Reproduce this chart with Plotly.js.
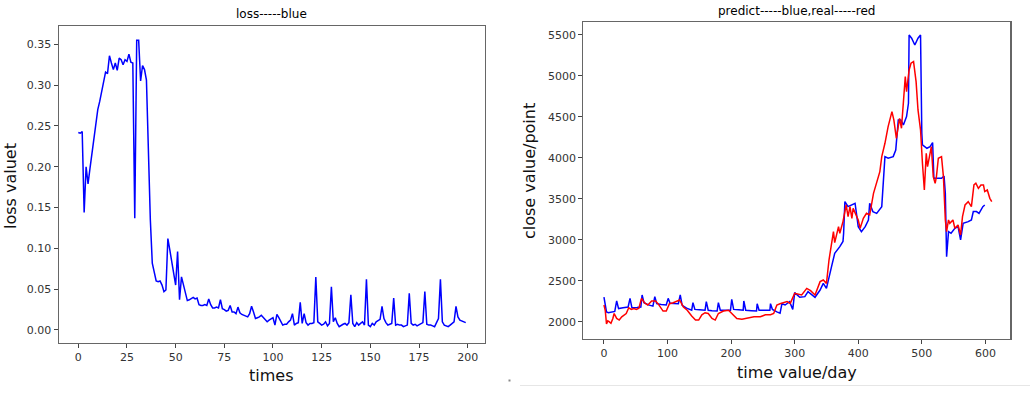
<!DOCTYPE html>
<html>
<head>
<meta charset="utf-8">
<script src="https://cdn.plot.ly/plotly-3.0.1.min.js"></script>
<style>html,body{margin:0;padding:0;background:#fff;}#chart{width:1036px;height:400px;}</style>
</head>
<body>
<div id="chart"></div>
<script>
// ---- left chart: training loss ----
const lossValues = [
0.242,0.241,0.243,0.144,0.200,0.179,0.198,0.217,0.235,0.252,
0.270,0.280,0.292,0.300,0.316,0.314,0.336,0.327,0.319,0.327,
0.318,0.333,0.331,0.325,0.331,0.329,0.338,0.328,0.327,0.137,
0.355,0.355,0.305,0.324,0.319,0.306,0.215,0.135,0.082,0.070,
0.060,0.059,0.060,0.055,0.047,0.049,0.112,0.098,0.084,0.070,
0.055,0.096,0.037,0.065,0.055,0.045,0.036,0.037,0.038,0.040,
0.038,0.039,0.031,0.030,0.030,0.031,0.030,0.038,0.031,0.027,
0.027,0.028,0.027,0.037,0.026,0.025,0.023,0.024,0.030,0.022,
0.022,0.020,0.028,0.021,0.019,0.018,0.017,0.016,0.020,0.029,
0.022,0.014,0.015,0.016,0.018,0.015,0.013,0.010,0.012,0.014,
0.015,0.006,0.019,0.015,0.010,0.006,0.007,0.007,0.010,0.012,
0.020,0.006,0.008,0.009,0.034,0.008,0.020,0.009,0.006,0.008,
0.008,0.009,0.065,0.010,0.008,0.006,0.007,0.010,0.005,0.008,
0.053,0.010,0.015,0.008,0.004,0.006,0.007,0.008,0.006,0.009,
0.043,0.008,0.004,0.009,0.006,0.008,0.010,0.006,0.062,0.006,
0.004,0.008,0.006,0.010,0.012,0.013,0.029,0.014,0.009,0.006,
0.007,0.008,0.039,0.006,0.007,0.006,0.006,0.004,0.005,0.006,
0.045,0.008,0.006,0.007,0.005,0.006,0.008,0.009,0.047,0.007,
0.006,0.006,0.005,0.004,0.009,0.014,0.062,0.010,0.006,0.005,
0.004,0.006,0.008,0.010,0.029,0.016,0.012,0.011,0.010,0.009
];
const lossTimes = lossValues.map((v, i) => i);
const lossTickVals = [0,25,50,75,100,125,150,175,200];
const lossYTicks = [0,0.05,0.10,0.15,0.20,0.25,0.30,0.35];

// ---- right chart: predicted (blue) vs real (red) close ----
const predictDays = [0,2,4,7,12,17,20,23,30,38,41,44,52,58,60,63,70,77,80,83,90,98,101,104,110,117,120,123,130,138,140,143,150,159,161,164,170,178,180,183,190,199,201,204,212,219,220,223,232,240,241,244,252,261,262,265,272,277,280,285,292,297,300,308,316,321,332,340,345,350,358,363,371,376,377,379,384,390,395,400,405,411,416,418,423,429,437,442,447,455,459,463,467,471,476,479,480,484,489,494,498,500,501,508,513,517,519,531,535,537,539,542,546,552,557,561,565,573,578,581,586,590,596,599];
const predictValues = [2300,2230,2120,2110,2118,2125,2253,2160,2170,2180,2285,2170,2175,2180,2326,2232,2205,2190,2305,2220,2210,2204,2285,2225,2222,2220,2326,2200,2165,2140,2232,2150,2145,2140,2244,2140,2135,2130,2232,2140,2140,2140,2273,2150,2145,2140,2253,2140,2135,2130,2220,2140,2140,2140,2220,2150,2120,2105,2220,2204,2245,2151,2355,2298,2306,2367,2298,2387,2468,2407,2672,2835,2916,2980,3079,3466,3405,3425,3446,3160,3099,3160,3242,3446,3344,3323,3405,4015,3995,4015,4096,4463,4463,4402,4504,4666,5500,5460,5378,5460,5500,4300,4158,4117,4137,4186,3750,3750,3779,3567,2794,3099,3079,3140,3160,2998,3201,3222,3242,3344,3344,3323,3405,3425];
const realDays = [0,2,4,6,8,11,14,16,20,24,28,32,35,39,43,47,51,55,59,64,69,75,81,85,88,93,98,103,109,115,119,125,131,138,144,149,154,159,164,170,175,180,188,196,201,209,217,225,236,246,254,262,267,272,277,288,293,300,311,319,325,332,340,345,350,354,358,361,363,369,371,376,381,384,387,390,392,397,400,403,408,413,418,424,429,434,437,442,447,453,456,460,465,468,474,476,480,483,487,491,494,498,501,504,507,509,512,515,518,521,523,526,531,534,537,539,542,544,549,552,557,561,564,568,573,578,582,585,589,593,597,599,603,607,610];
const realValues = [2204,2140,1972,2010,2000,1980,2040,2100,2040,2020,2060,2080,2100,2170,2150,2160,2150,2165,2285,2230,2204,2253,2253,2220,2190,2130,2130,2220,2232,2253,2265,2180,2140,2070,2020,2020,2085,2110,2100,2040,2020,2100,2130,2140,2100,2040,2030,2040,2060,2060,2085,2085,2100,2204,2220,2245,2224,2346,2326,2407,2379,2326,2489,2509,2468,2753,2977,3099,2965,3160,3079,3222,3425,3283,3405,3262,3384,3303,3242,3140,3262,3323,3303,3567,3710,3832,4015,4178,4381,4565,4463,4239,4483,4361,4992,4809,5073,5155,5175,4931,4585,4341,3934,3608,4056,3893,4015,4137,3771,3690,3771,3995,4015,3771,3242,3099,3242,3201,3242,3140,3181,3059,3283,3425,3466,3405,3669,3690,3628,3669,3669,3588,3608,3506,3466];
const dayTickVals = [0,100,200,300,400,500,600];
const closeTickVals = [2000,2500,3000,3500,4000,4500,5000,5500];

const W = 1036, H = 400;
const px = x => x / W;
const py = y => 1 - y / H;
const FONT = 'DejaVu Sans, sans-serif';
const tickFont = {family: FONT, size: 11, color: '#333'};

const axisCommon = {
  showgrid: false, zeroline: false, showline: true, mirror: true,
  linecolor: '#666', linewidth: 1.2, ticks: 'outside', ticklen: 4,
  tickcolor: '#444', tickwidth: 1, tickfont: tickFont, fixedrange: true
};

const traces = [
  {x: lossTimes, y: lossValues, type: 'scatter', mode: 'lines',
   line: {color: '#0000ff', width: 1.5}, xaxis: 'x', yaxis: 'y', hoverinfo: 'skip'},
  {x: predictDays, y: predictValues, type: 'scatter', mode: 'lines',
   line: {color: '#0000ff', width: 1.5}, xaxis: 'x2', yaxis: 'y2', hoverinfo: 'skip'},
  {x: realDays, y: realValues, type: 'scatter', mode: 'lines',
   line: {color: '#ff0000', width: 1.5}, xaxis: 'x2', yaxis: 'y2', hoverinfo: 'skip'}
];

const layout = {
  width: W, height: H,
  margin: {l: 0, r: 0, t: 0, b: 0},
  paper_bgcolor: '#fff', plot_bgcolor: '#fff',
  showlegend: false,
  font: {family: FONT},
  xaxis: Object.assign({}, axisCommon, {
    domain: [px(58.7), px(485)], range: [-10.07, 208.9], anchor: 'y',
    tickvals: lossTickVals, ticktext: lossTickVals.map(String)
  }),
  yaxis: Object.assign({}, axisCommon, {
    domain: [py(342.7), py(26)], range: [-0.0156, 0.3724], anchor: 'x',
    tickvals: lossYTicks, ticktext: lossYTicks.map(v => v.toFixed(2))
  }),
  xaxis2: Object.assign({}, axisCommon, {
    domain: [px(583.3), px(1010.3)], range: [-32.5, 639.2], anchor: 'y2',
    tickvals: dayTickVals, ticktext: dayTickVals.map(String)
  }),
  yaxis2: Object.assign({}, axisCommon, {
    domain: [py(339), py(21.7)], range: [1789, 5662], anchor: 'x2',
    tickvals: closeTickVals, ticktext: closeTickVals.map(String)
  }),
  annotations: [
    {text: 'loss-----blue', xref: 'paper', yref: 'paper', x: px(271.9), y: py(14),
     xanchor: 'center', yanchor: 'middle', showarrow: false, font: {family: FONT, size: 12, color: '#000'}},
    {text: 'predict-----blue,real-----red', xref: 'paper', yref: 'paper', x: px(796.8), y: py(11),
     xanchor: 'center', yanchor: 'middle', showarrow: false, font: {family: FONT, size: 12, color: '#000'}},
    {text: 'times', xref: 'paper', yref: 'paper', x: px(271), y: py(375),
     xanchor: 'center', yanchor: 'middle', showarrow: false, font: {family: FONT, size: 16, color: '#111'}},
    {text: 'loss valuet', xref: 'paper', yref: 'paper', x: px(10), y: py(186),
     xanchor: 'center', yanchor: 'middle', textangle: -90, showarrow: false, font: {family: FONT, size: 16, color: '#111'}},
    {text: 'time value/day', xref: 'paper', yref: 'paper', x: px(797), y: py(372),
     xanchor: 'center', yanchor: 'middle', showarrow: false, font: {family: FONT, size: 16, color: '#111'}},
    {text: 'close value/point', xref: 'paper', yref: 'paper', x: px(529), y: py(171),
     xanchor: 'center', yanchor: 'middle', textangle: -90, showarrow: false, font: {family: FONT, size: 16, color: '#111'}}
  ],
  shapes: [
    {type: 'line', xref: 'paper', yref: 'paper', x0: px(520), x1: px(1030), y0: py(385.5), y1: py(385.5),
     line: {color: '#e6e6e6', width: 1}},
    {type: 'rect', xref: 'paper', yref: 'paper', x0: px(508.5), x1: px(510.5), y0: py(381.5), y1: py(379.5),
     fillcolor: '#888', line: {width: 0}}
  ]
};

Plotly.newPlot('chart', traces, layout, {displayModeBar: false, staticPlot: true});
</script>
</body>
</html>
